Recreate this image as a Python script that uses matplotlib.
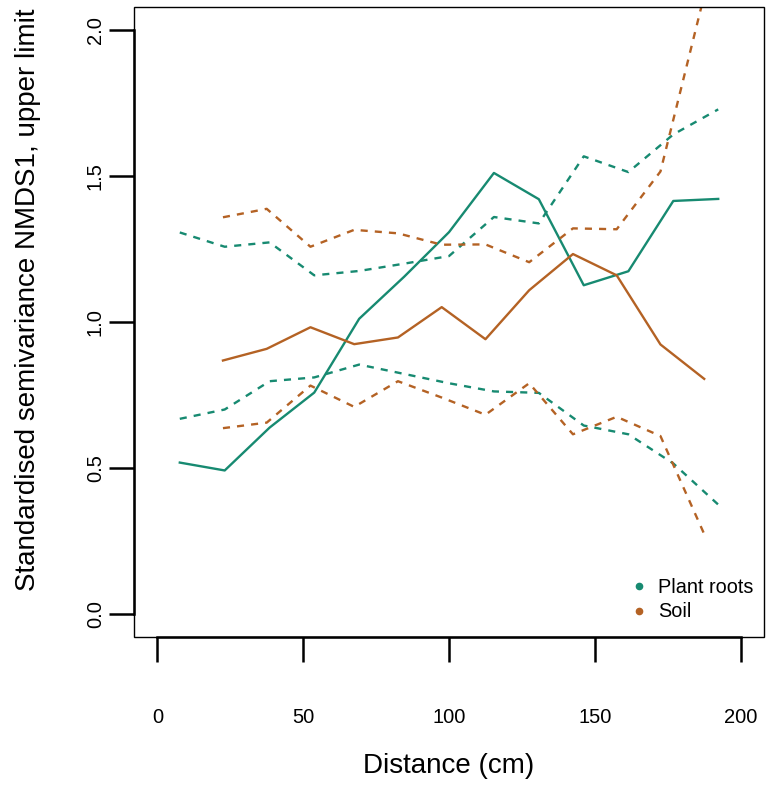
import matplotlib
matplotlib.use('Agg')
import matplotlib.pyplot as plt
from matplotlib.lines import Line2D
from matplotlib.patches import Rectangle

plt.rcParams['font.family'] = ['Liberation Sans', 'DejaVu Sans']

# distance classes (cm)
dist_roots = [7.7, 23.1, 38.5, 53.8, 69.2, 84.6, 100.0, 115.4, 130.8, 146.2, 161.5, 176.9, 192.3]
dist_soil = [22.5, 37.5, 52.5, 67.5, 82.5, 97.5, 112.5, 127.5, 142.5, 157.5, 172.5, 187.5]

# standardised semivariance and envelope
roots_mean = [0.518, 0.491, 0.638, 0.758, 1.011, 1.155, 1.308, 1.511, 1.421, 1.126, 1.174, 1.415, 1.422]
roots_upper = [1.307, 1.258, 1.273, 1.160, 1.175, 1.200, 1.226, 1.360, 1.338, 1.568, 1.514, 1.643, 1.729]
roots_lower = [0.668, 0.700, 0.797, 0.810, 0.854, 0.822, 0.790, 0.762, 0.757, 0.645, 0.615, 0.515, 0.374]

soil_mean = [0.868, 0.908, 0.982, 0.924, 0.947, 1.051, 0.941, 1.109, 1.233, 1.160, 0.923, 0.805]
soil_upper = [1.359, 1.388, 1.258, 1.316, 1.304, 1.265, 1.266, 1.205, 1.321, 1.318, 1.516, 2.12]
soil_lower = [0.636, 0.655, 0.782, 0.709, 0.797, 0.741, 0.682, 0.790, 0.615, 0.675, 0.609, 0.273]

x_ticks = [0, 50, 100, 150, 200]
y_ticks = [0.0, 0.5, 1.0, 1.5, 2.0]

col_roots = '#178A71'
col_soil = '#B46224'

fig = plt.figure(figsize=(7.72, 7.86), dpi=100)
ax = fig.add_axes([134 / 772, 1 - 637 / 786, 630 / 772, 630 / 786])

dash = (3.0, 3.0)
lw = 1.7
ax.plot(dist_roots, roots_mean, color=col_roots, lw=lw)
ax.plot(dist_roots, roots_upper, color=col_roots, lw=lw, dashes=dash)
ax.plot(dist_roots, roots_lower, color=col_roots, lw=lw, dashes=dash)
ax.plot(dist_soil, soil_mean, color=col_soil, lw=lw)
ax.plot(dist_soil, soil_upper, color=col_soil, lw=lw, dashes=dash)
ax.plot(dist_soil, soil_lower, color=col_soil, lw=lw, dashes=dash)

ax.set_xlim(-8, 208)
ax.set_ylim(-0.08, 2.08)

# R-style box plus thicker axis lines
for s in ['top', 'right']:
    ax.spines[s].set_visible(False)
ax.add_patch(Rectangle((0, 0), 1, 1, transform=ax.transAxes, fill=False,
                       lw=1.0, edgecolor='black', clip_on=False, zorder=5))
ax.spines['left'].set_bounds(0, 2)
ax.spines['bottom'].set_bounds(0, 200)
ax.spines['left'].set_linewidth(1.8)
ax.spines['bottom'].set_linewidth(1.8)

ax.set_xticks(x_ticks)
ax.set_xticklabels([str(v) for v in x_ticks])
ax.set_yticks(y_ticks)
ax.set_yticklabels(['%.1f' % v for v in y_ticks], rotation=90, va='center')
ax.tick_params(axis='both', length=18, width=1.8, labelsize=14.5)
ax.tick_params(axis='x', pad=33)
ax.tick_params(axis='y', pad=3)

ax.set_xlabel('Distance (cm)', fontsize=20)
ax.set_ylabel('Standardised semivariance NMDS1, upper limit', fontsize=20)
ax.xaxis.set_label_coords(0.5, -0.184)
ax.yaxis.set_label_coords(-0.148, 0.535)

handles = [Line2D([], [], ls='none', marker='o', ms=4.5, color=col_roots),
           Line2D([], [], ls='none', marker='o', ms=4.5, color=col_soil)]
ax.legend(handles, ['Plant roots', 'Soil'], loc='lower left', bbox_to_anchor=(0.774, 0.012),
          frameon=False, fontsize=14.3, handlelength=1.0, handletextpad=0.45,
          labelspacing=0.3, borderaxespad=0)

fig.savefig('out.png', dpi=100)
